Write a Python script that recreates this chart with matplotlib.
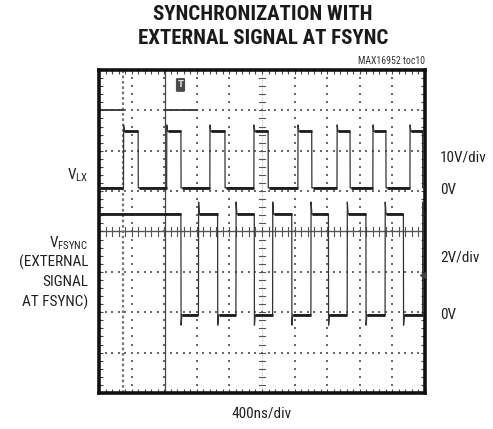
import numpy as np
import matplotlib
matplotlib.use('Agg')
import matplotlib.pyplot as plt
from matplotlib.patches import FancyBboxPatch

# scope settings
ns_per_div = 400
vlx_v_per_div = 10
fsync_v_per_div = 2
vlx_zero_div = 5.08      # ground level of VLX trace (divisions from bottom)
fsync_zero_div = 1.93    # ground level of FSYNC trace

# VLX switching node (volts), edges in ns
vlx_low, vlx_high = 0.0, 14.0
vlx_rise = [300, 830, 1360, 1900, 2440, 2920, 3360, 3815]
vlx_fall = [480, 1005, 1545, 2075, 2610, 3080, 3520, 3970]
vlx_overshoot = 1.6

# FSYNC external clock (volts), edges in ns
fsync_low, fsync_high = 0.0, 5.0
fsync_fall = [1005, 1455, 1905, 2365, 2815, 3275, 3735]
fsync_rise = [1220, 1680, 2130, 2600, 3045, 3510, 3970]
fsync_overshoot = 0.6
fsync_undershoot = 0.5

# cursor / marker positions (ns)
trigger_dash_t = 290
cursor_t = 815
trigger_t = 1000


def build_trace(start_level, low, high, rises, falls, over, under, t_end=4000):
    edges = sorted([(t, 'r') for t in rises] + [(t, 'f') for t in falls])
    t = [0.0]
    v = [start_level]
    level = start_level
    flats = []
    seg_start = 0.0
    for te, kind in edges:
        flats.append((seg_start, te, level))
        t.append(te)
        v.append(level)
        if kind == 'r':
            t += [te + 2, te + 12]
            v += [high + over, high]
            level = high
        else:
            t += [te + 2, te + 12]
            v += [low - under, low]
            level = low
        seg_start = te + 12
    flats.append((seg_start, t_end, level))
    t.append(t_end)
    v.append(level)
    return np.array(t), np.array(v), flats


fig = plt.figure(figsize=(4.93, 4.29), dpi=100)
W, H = 493, 429
ax = fig.add_axes([99 / W, 1 - 393 / H, 326 / W, 323 / H])
ax.set_xlim(0, 10)
ax.set_ylim(0, 8)

# graticule
dot_c = '#6a6a6a'
xs = np.arange(0, 10.01, 0.2)
ys = np.arange(0, 8.01, 0.2)
for i in range(1, 10):
    if i == 5:
        continue
    ax.scatter(np.full(len(ys), i), ys, s=1.6, marker='s', color=dot_c, lw=0, zorder=1)
for j in range(1, 8):
    if j == 4:
        continue
    ax.scatter(xs, np.full(len(xs), j), s=1.6, marker='s', color=dot_c, lw=0, zorder=1)
# centre cross lines with ticks
ax.axhline(4, color='#555555', lw=1.0, zorder=1)
ax.axvline(5, color='#999999', lw=0.6, ls=(0, (1, 2)), zorder=1)
for x in xs:
    ax.plot([x, x], [3.9, 4.1], color='#555555', lw=0.8, zorder=1)
for y in ys:
    ax.plot([4.92, 5.08], [y, y], color='#555555', lw=0.8, zorder=1)

# cursors / markers
ax.axvline(trigger_dash_t / ns_per_div, color='#7a7a7a', lw=1.6, ls=(0, (1.2, 1.2)), zorder=1)
ax.axvline(cursor_t / ns_per_div, color='#444444', lw=0.9, zorder=2)
ax.plot([0, trigger_dash_t / ns_per_div], [7, 7], color='#333333', lw=1.3, zorder=2)
ax.plot([cursor_t / ns_per_div, 3.0], [7, 7], color='#333333', lw=1.3, zorder=2)
ax.add_patch(FancyBboxPatch((trigger_t / ns_per_div - 0.1, 7.5), 0.2, 0.26,
                            boxstyle='round,pad=0.03', fc='#4a4a4a', ec='#333333', lw=0.5, zorder=4))
ax.text(trigger_t / ns_per_div, 7.63, 'T', color='#dddddd', fontsize=6, ha='center', va='center',
        fontweight='bold', zorder=5)
ax.plot([9.93], [2.92], marker='<', color='#444444', ms=5, zorder=4)

# traces
tr_c = '#1c1c1c'
for rises, falls, low, high, over, under, vpd, zero, start in [
        (vlx_rise, vlx_fall, vlx_low, vlx_high, vlx_overshoot, 0.0, vlx_v_per_div, vlx_zero_div, vlx_low),
        (fsync_rise, fsync_fall, fsync_low, fsync_high, fsync_overshoot, fsync_undershoot,
         fsync_v_per_div, fsync_zero_div, fsync_high)]:
    t, v, flats = build_trace(start, low, high, rises, falls, over, under)
    ax.plot(t / ns_per_div, zero + v / vpd, color='#333333', lw=0.9, zorder=3)
    for a, b, lv in flats:
        ax.plot([a / ns_per_div, b / ns_per_div], [zero + lv / vpd] * 2, color=tr_c, lw=2.0,
                zorder=3, solid_capstyle='butt')

# frame ticks
ax.xaxis.set_major_locator(plt.MultipleLocator(1))
ax.xaxis.set_minor_locator(plt.MultipleLocator(0.2))
ax.yaxis.set_major_locator(plt.MultipleLocator(1))
ax.yaxis.set_minor_locator(plt.MultipleLocator(0.2))
ax.tick_params(which='both', direction='in', length=3, width=0.8, color='#444444',
               top=True, right=True, labelleft=False, labelbottom=False)
for s in ax.spines.values():
    s.set_linewidth(2.6)
    s.set_color('#111111')

# text
cond = ['Roboto Condensed', 'DejaVu Sans']
fig.text(263 / W, 1 - 14 / H, 'SYNCHRONIZATION WITH', ha='center', va='center',
         fontsize=15, fontweight='bold', family=cond, color='#1a1a1a')
fig.text(263 / W, 1 - 39 / H, 'EXTERNAL SIGNAL AT FSYNC', ha='center', va='center',
         fontsize=15, fontweight='bold', family=cond, color='#1a1a1a')
fig.text(425 / W, 1 - 61 / H, 'MAX16952 toc10', ha='right', va='center', fontsize=7,
         family=cond, color='#333333')

lab = dict(fontsize=11, family=cond, color='#222222')
fig.text(88 / W, 1 - 175 / H, r'V$_{\mathregular{LX}}$', ha='right', va='center', **lab)
fig.text(88 / W, 1 - 243 / H, r'V$_{\mathregular{FSYNC}}$', ha='right', va='center', **lab)
fig.text(88 / W, 1 - 262 / H, '(EXTERNAL', ha='right', va='center', **lab)
fig.text(88 / W, 1 - 282 / H, 'SIGNAL', ha='right', va='center', **lab)
fig.text(88 / W, 1 - 302 / H, 'AT FSYNC)', ha='right', va='center', **lab)
fig.text(440 / W, 1 - 158 / H, '10V/div', ha='left', va='center', **lab)
fig.text(440 / W, 1 - 190 / H, '0V', ha='left', va='center', **lab)
fig.text(440 / W, 1 - 258 / H, '2V/div', ha='left', va='center', **lab)
fig.text(440 / W, 1 - 315 / H, '0V', ha='left', va='center', **lab)
fig.text(262 / W, 1 - 414 / H, '400ns/div', ha='center', va='center', **lab)

fig.savefig('out.png', dpi=100)
